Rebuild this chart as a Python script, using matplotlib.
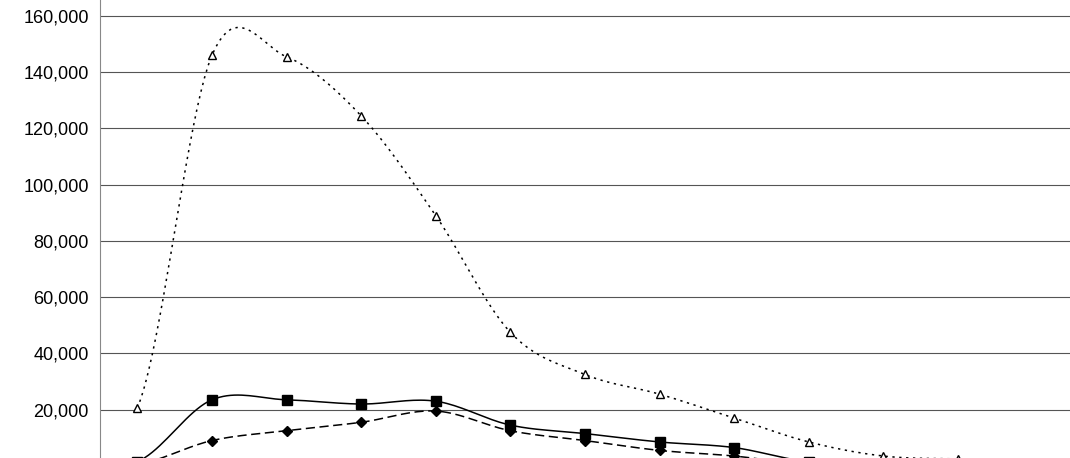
import numpy as np
import matplotlib
matplotlib.use("Agg")
import matplotlib.pyplot as plt
from matplotlib.ticker import FuncFormatter

plt.rcParams["font.family"] = ["Liberation Sans", "DejaVu Sans"]

tri = [20500, 146000, 145500, 124500, 89000, 47500, 32500, 25500, 17000, 8500, 3500, 2500]
sq = [1500, 23500, 23500, 22000, 23000, 14500, 11500, 8500, 6500, 1500]
dia = [500, 9000, 12500, 15500, 19500, 12500, 9000, 5500, 3500, 500]


def smooth(y, n=20):
    # Catmull-Rom, wie Excel "geglaettete Linie"
    y = np.asarray(y, float)
    p = np.concatenate([[y[0]], y, [y[-1]]])
    xs, ys = [], []
    for i in range(len(y) - 1):
        p0, p1, p2, p3 = p[i], p[i + 1], p[i + 2], p[i + 3]
        t = np.linspace(0, 1, n, endpoint=False)
        ys.extend(0.5 * (2 * p1 + (-p0 + p2) * t + (2 * p0 - 5 * p1 + 4 * p2 - p3) * t**2
                         + (-p0 + 3 * p1 - 3 * p2 + p3) * t**3))
        xs.extend(i + t)
    xs.append(len(y) - 1)
    ys.append(y[-1])
    return np.array(xs), np.array(ys)


fig = plt.figure(figsize=(10.7, 4.58), dpi=100)
ax = fig.add_axes([100 / 1070, 0, 970 / 1070, 1])

for data, ls, mk, mfc, ms in [(tri, (0, (1.5, 3)), "^", "white", 6), (sq, "-", "s", "black", 7),
                              (dia, (0, (6, 3)), "D", "black", 5)]:
    xs, ys = smooth(data)
    ax.plot(xs, ys, color="black", linestyle=ls, linewidth=1.1)
    ax.plot(range(len(data)), data, linestyle="none", marker=mk, markersize=ms,
            markerfacecolor=mfc, markeredgecolor="black")

ax.set_xlim(-0.5, 12.5)
ax.set_ylim(2800, 165700)
ax.set_yticks(range(20000, 160001, 20000))
ax.yaxis.set_major_formatter(FuncFormatter(lambda v, p: f"{int(v):,}"))
ax.tick_params(axis="y", length=0, labelsize=13, pad=8)
ax.set_xticks([])
ax.grid(axis="y", color="#555555", linewidth=0.8)
for s in ["top", "right", "bottom"]:
    ax.spines[s].set_visible(False)
ax.spines["left"].set_color("#888888")

fig.savefig("out.png", dpi=100)
